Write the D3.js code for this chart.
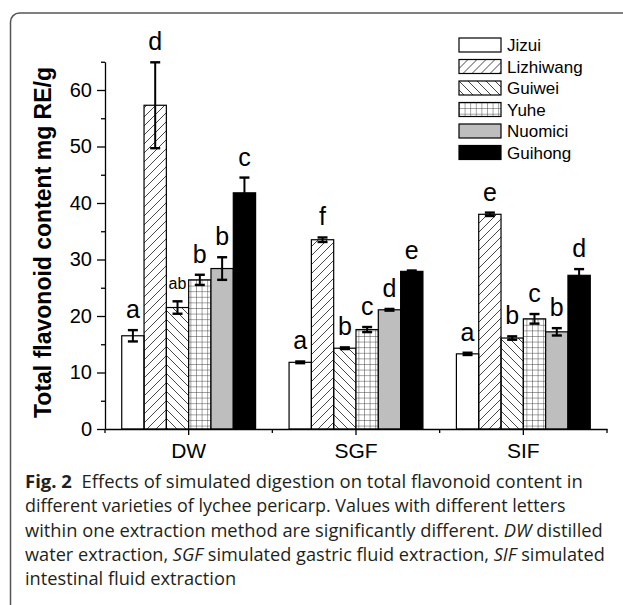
<!DOCTYPE html>
<html>
<head>
<meta charset="utf-8">
<script src="https://d3js.org/d3.v7.min.js"></script>
<style>
  body { margin: 0; background: #fff; }
  svg { display: block; }
</style>
</head>
<body>
<div id="chart"></div>
<script>
// data
const methods = ["DW", "SGF", "SIF"];
const varieties = ["Jizui", "Lizhiwang", "Guiwei", "Yuhe", "Nuomici", "Guihong"];

const dwMeans  = [16.5, 57.3, 21.5, 26.4, 28.4, 41.8];
const dwSd     = [1.0, 7.6, 1.1, 0.9, 2.0, 2.7];
const dwLetters = ["a", "d", "ab", "b", "b", "c"];

const sgfMeans = [11.8, 33.5, 14.3, 17.6, 21.1, 27.9];
const sgfSd    = [0.15, 0.4, 0.15, 0.45, 0.15, 0.15];
const sgfLetters = ["a", "f", "b", "c", "d", "e"];

const sifMeans = [13.3, 38.0, 16.1, 19.5, 17.2, 27.2];
const sifSd    = [0.2, 0.3, 0.3, 0.85, 0.65, 1.1];
const sifLetters = ["a", "e", "b", "c", "b", "d"];

const yTicks = [0, 10, 20, 30, 40, 50, 60];
const yMinor = [5, 15, 25, 35, 45, 55, 65];

const meansBy = {DW: dwMeans, SGF: sgfMeans, SIF: sifMeans};
const sdBy = {DW: dwSd, SGF: sgfSd, SIF: sifSd};
const lettersBy = {DW: dwLetters, SGF: sgfLetters, SIF: sifLetters};

var rows = [];
methods.forEach(function(m) {
  varieties.forEach(function(v, i) {
    rows.push({method: m, variety: v, mean: meansBy[m][i], sd: sdBy[m][i], letter: lettersBy[m][i]});
  });
});

var W = 623, H = 605;
var svg = d3.select("#chart").append("svg")
  .attr("width", W).attr("height", H);

// panel frame (open on the right and bottom)
svg.append("path")
  .attr("d", "M10.5,605 V22 A9,9 0 0 1 19.5,13 H623")
  .attr("fill", "none")
  .attr("stroke", "#555")
  .attr("stroke-width", 1.5);

// patterns
var defs = svg.append("defs");
var hatch1 = defs.append("pattern").attr("id", "fwd")
  .attr("patternUnits", "userSpaceOnUse").attr("width", 9).attr("height", 9);
hatch1.append("path").attr("d", "M-1,1 L1,-1 M0,9 L9,0 M8,10 L10,8")
  .attr("stroke", "#333").attr("stroke-width", 0.9);

var hatch2 = defs.append("pattern").attr("id", "back")
  .attr("patternUnits", "userSpaceOnUse").attr("width", 9).attr("height", 9);
hatch2.append("path").attr("d", "M-1,8 L1,10 M0,0 L9,9 M8,-1 L10,1")
  .attr("stroke", "#333").attr("stroke-width", 0.9);

var grid = defs.append("pattern").attr("id", "grid")
  .attr("patternUnits", "userSpaceOnUse").attr("width", 5.6).attr("height", 5.6);
grid.append("rect").attr("width", 5.6).attr("height", 5.6).attr("fill", "#fff");
grid.append("path").attr("d", "M0,0 H5.6 M0,0 V5.6")
  .attr("stroke", "#333").attr("stroke-width", 0.9);

var fills = {
  Jizui: "#fff",
  Lizhiwang: "url(#fwd)",
  Guiwei: "url(#back)",
  Yuhe: "url(#grid)",
  Nuomici: "#bebebe",
  Guihong: "#000"
};

// scales
var x0 = d3.scaleBand().domain(methods).range([105, 607]).padding(0);
var bw = x0.bandwidth();
var x1 = d3.scaleBand().domain(varieties).range([bw * 0.1, bw * 0.9]).padding(0);
var y = d3.scaleLinear().domain([0, 65]).range([429, 61.75]);

var chartFont = "'Liberation Sans', Arial, sans-serif";

// bars
var g = svg.append("g");
g.selectAll("rect.bar")
  .data(rows)
  .enter()
  .append("rect")
    .attr("class", "bar")
    .attr("x", function(d) { return x0(d.method) + x1(d.variety); })
    .attr("y", function(d) { return y(d.mean); })
    .attr("width", x1.bandwidth())
    .attr("height", function(d) { return y(0) - y(d.mean); })
    .attr("fill", function(d) { return fills[d.variety]; })
    .attr("stroke", "#000")
    .attr("stroke-width", 1.2);

// error bars
var eb = g.selectAll("g.err").data(rows).enter().append("g").attr("class", "err")
  .attr("transform", function(d) {
    return "translate(" + (x0(d.method) + x1(d.variety) + x1.bandwidth() / 2) + ",0)";
  });
eb.append("line")
  .attr("y1", function(d) { return y(d.mean + d.sd); })
  .attr("y2", function(d) { return y(d.mean - d.sd); })
  .attr("stroke", "#000").attr("stroke-width", 2);
eb.append("line")
  .attr("x1", -5).attr("x2", 5)
  .attr("y1", function(d) { return y(d.mean + d.sd); })
  .attr("y2", function(d) { return y(d.mean + d.sd); })
  .attr("stroke", "#000").attr("stroke-width", 2.4);
eb.append("line")
  .attr("x1", -5).attr("x2", 5)
  .attr("y1", function(d) { return y(d.mean - d.sd); })
  .attr("y2", function(d) { return y(d.mean - d.sd); })
  .attr("stroke", "#000").attr("stroke-width", 2.4);

// significance letters
g.selectAll("text.letter").data(rows).enter().append("text")
  .attr("class", "letter")
  .attr("x", function(d) { return x0(d.method) + x1(d.variety) + x1.bandwidth() / 2; })
  .attr("y", function(d) { return y(d.mean + d.sd) - 12; })
  .attr("text-anchor", "middle")
  .style("font-family", chartFont)
  .style("font-size", function(d) { return d.letter.length > 1 ? "16px" : "25px"; })
  .text(function(d) { return d.letter; });

// y axis
var yAxis = svg.append("g")
  .attr("transform", "translate(105,0)")
  .call(d3.axisLeft(y).tickValues(yTicks).tickSize(8).tickSizeOuter(0).tickPadding(5));
yAxis.select(".domain").attr("stroke-width", 1.3);
yAxis.selectAll(".tick line").attr("stroke-width", 1.3);
yAxis.selectAll("text")
  .style("font-family", chartFont).style("font-size", "20px").attr("fill", "#000");

var yMinorAxis = svg.append("g")
  .attr("transform", "translate(105,0)")
  .call(d3.axisLeft(y).tickValues(yMinor).tickSize(4).tickSizeOuter(0).tickFormat(""));
yMinorAxis.select(".domain").remove();
yMinorAxis.selectAll(".tick line").attr("stroke-width", 1.3);

// x axis
var xAxis = svg.append("g")
  .attr("transform", "translate(0," + y(0) + ")")
  .call(d3.axisBottom(x0).tickSize(6).tickSizeOuter(0).tickPadding(8));
xAxis.select(".domain").attr("stroke-width", 1.3);
xAxis.selectAll(".tick line").attr("stroke-width", 1.3);
xAxis.selectAll("text")
  .style("font-family", chartFont).style("font-size", "21px").attr("fill", "#000");

var edges = [x0(methods[0])].concat(methods.map(function(m) { return x0(m) + bw; }));
xAxis.selectAll("line.minor").data(edges).enter().append("line")
  .attr("class", "minor")
  .attr("x1", function(d) { return d; }).attr("x2", function(d) { return d; })
  .attr("y1", 0).attr("y2", 4)
  .attr("stroke", "#000").attr("stroke-width", 1.3);

// y title
svg.append("text")
  .attr("transform", "translate(51,242.5) rotate(-90)")
  .attr("text-anchor", "middle")
  .style("font-family", chartFont)
  .style("font-size", "23px")
  .style("font-weight", "bold")
  .text("Total flavonoid content mg RE/g");

// legend
var legend = svg.append("g").attr("transform", "translate(459,38)");
var li = legend.selectAll("g").data(varieties).enter().append("g")
  .attr("transform", function(d, i) { return "translate(0," + (i * 21.5) + ")"; });
li.append("rect")
  .attr("width", 42).attr("height", 14)
  .attr("fill", function(d) { return fills[d]; })
  .attr("stroke", "#000").attr("stroke-width", 1.2);
li.append("text")
  .attr("x", 48).attr("y", 13)
  .style("font-family", chartFont)
  .style("font-size", "17px")
  .text(function(d) { return d; });

// caption
var capLines = [
  [{t: "Fig. 2", b: true}, {t: "  Effects of simulated digestion on total flavonoid content in"}],
  [{t: "different varieties of lychee pericarp. Values with different letters"}],
  [{t: "within one extraction method are significantly different. "}, {t: "DW", i: true}, {t: " distilled"}],
  [{t: "water extraction, "}, {t: "SGF", i: true}, {t: " simulated gastric fluid extraction, "}, {t: "SIF", i: true}, {t: " simulated"}],
  [{t: "intestinal fluid extraction"}]
];
var capEnds = [583, 566, 603, 605, null];
var capBase = [488, 512.5, 537, 561, 585.5];

var capGroups = [];
var scales = [];
capLines.forEach(function(parts, n) {
  var grp = svg.append("g");
  var txt = grp.append("text")
    .attr("x", 0).attr("y", capBase[n])
    .attr("xml:space", "preserve")
    .style("font-family", "'Open Sans', 'Noto Sans', sans-serif")
    .style("font-size", "17.5px")
    .attr("fill", "#231f20");
  parts.forEach(function(p) {
    txt.append("tspan")
      .style("font-weight", p.b ? "bold" : "normal")
      .style("font-style", p.i ? "italic" : "normal")
      .text(p.t);
  });
  var w = txt.node().getComputedTextLength();
  var k = capEnds[n] ? (capEnds[n] - 25) / w : null;
  if (k) scales.push(k);
  capGroups.push({grp: grp, k: k});
});
var kAvg = d3.mean(scales);
capGroups.forEach(function(c) {
  c.grp.attr("transform", "translate(25,0) scale(" + (c.k || kAvg) + ",1)");
});
</script>
</body>
</html>
